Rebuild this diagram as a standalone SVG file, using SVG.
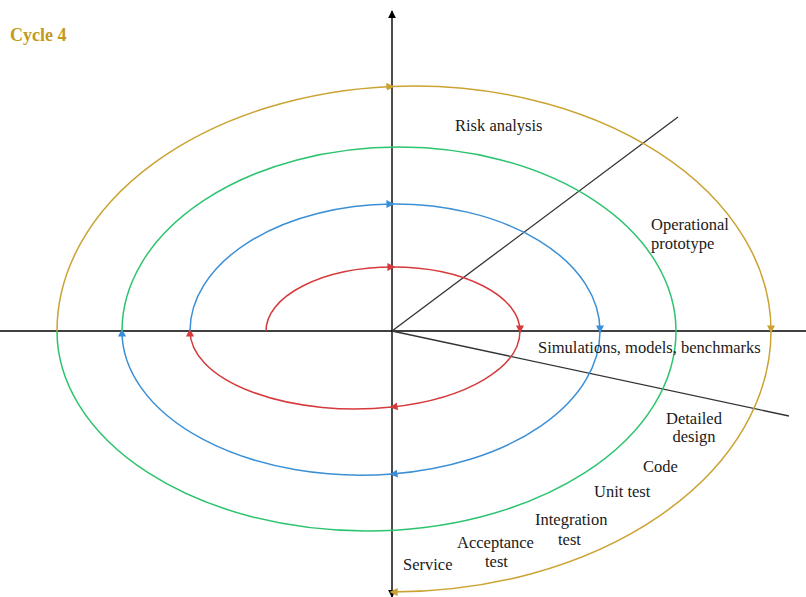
<svg xmlns="http://www.w3.org/2000/svg" width="806" height="597" viewBox="0 0 806 597">
<style>
.lbl{font-family:"Liberation Serif","Times New Roman",serif;font-size:16.5px;fill:#1a1a1a}
.ax{stroke:#000;stroke-width:1.4;fill:none}
.ln{stroke:#333;stroke-width:1.3;fill:none}
.red{stroke:#d63a3c;stroke-width:1.5;fill:none}
.blue{stroke:#3b8fd6;stroke-width:1.5;fill:none}
.green{stroke:#2dc470;stroke-width:1.5;fill:none}
.gold{stroke:#cba332;stroke-width:1.5;fill:none}
</style>
<defs>
<marker id="mk" viewBox="0 0 10 10" refX="9" refY="5" markerWidth="8" markerHeight="8" markerUnits="userSpaceOnUse" orient="auto"><path d="M0,0 L10,5 L0,10 z" fill="#000"/></marker>
<marker id="mr" viewBox="0 0 10 10" refX="7" refY="5" markerWidth="8" markerHeight="8" markerUnits="userSpaceOnUse" orient="auto"><path d="M0,0 L10,5 L0,10 z" fill="#d63a3c"/></marker>
<marker id="mb" viewBox="0 0 10 10" refX="7" refY="5" markerWidth="8" markerHeight="8" markerUnits="userSpaceOnUse" orient="auto"><path d="M0,0 L10,5 L0,10 z" fill="#3b8fd6"/></marker>
<marker id="mg" viewBox="0 0 10 10" refX="7" refY="5" markerWidth="8" markerHeight="8" markerUnits="userSpaceOnUse" orient="auto"><path d="M0,0 L10,5 L0,10 z" fill="#cba332"/></marker>
</defs>
<rect width="806" height="597" fill="#fff"/>
<g id="connectors">
<line class="ax" x1="0" y1="331" x2="806" y2="331"/>
<line class="ax" x1="392" y1="331" x2="392" y2="11" marker-end="url(#mk)"/>
<line class="ax" x1="392" y1="331" x2="392" y2="597" marker-end="url(#mk)"/>
<line class="ln" x1="392" y1="331" x2="678" y2="117"/>
<line class="ln" x1="392" y1="331" x2="789" y2="416"/>
<path class="red" d="M266,331 A127,64 0 0,1 393,267" marker-end="url(#mr)"/>
<path class="red" d="M393,267 A127,64 0 0,1 520,331" marker-end="url(#mr)"/>
<path class="red" d="M520,331 A165,78 0 0,1 392,407" marker-end="url(#mr)"/>
<path class="red" d="M392,407 A165,78 0 0,1 190,331" marker-end="url(#mr)"/>
<path class="blue" d="M190,331 A205,127 0 0,1 392,204" marker-end="url(#mb)"/>
<path class="blue" d="M392,204 A205,127 0 0,1 600,331" marker-end="url(#mb)"/>
<path class="blue" d="M600,331 A239,144 0 0,1 392,474" marker-end="url(#mb)"/>
<path class="blue" d="M392,474 A239,144 0 0,1 122,331" marker-end="url(#mb)"/>
<path class="green" d="M122,331 A277,184 0 0,1 676,331"/>
<path class="green" d="M676,331 A309.5,200 0 0,1 57,331"/>
<path class="gold" d="M57,331 A357,245 0 0,1 392,86.5" marker-end="url(#mg)"/>
<path class="gold" d="M392,86.5 A357,245 0 0,1 771,331" marker-end="url(#mg)"/>
<path class="gold" d="M771,331 A379,261 0 0,1 392,592" marker-end="url(#mg)"/>
</g>
<g id="cycle4"><text x="10" y="41" font-family="Liberation Serif,serif" font-weight="bold" font-size="18" fill="#c39a1a">Cycle 4</text></g>
<g id="risk"><text class="lbl" x="455" y="131">Risk analysis</text></g>
<g id="operational"><text class="lbl" x="651" y="230">Operational</text><text class="lbl" x="651" y="249">prototype</text></g>
<g id="simulations"><text class="lbl" x="538" y="353">Simulations, models, benchmarks</text></g>
<g id="detailed"><text class="lbl" x="694" y="424" text-anchor="middle">Detailed</text><text class="lbl" x="694" y="442" text-anchor="middle">design</text></g>
<g id="code"><text class="lbl" x="643" y="472">Code</text></g>
<g id="unittest"><text class="lbl" x="594" y="497">Unit test</text></g>
<g id="integration"><text class="lbl" x="535" y="525">Integration</text><text class="lbl" x="558" y="545">test</text></g>
<g id="acceptance"><text class="lbl" x="457" y="548">Acceptance</text><text class="lbl" x="485" y="567">test</text></g>
<g id="service"><text class="lbl" x="403" y="570">Service</text></g>
</svg>
